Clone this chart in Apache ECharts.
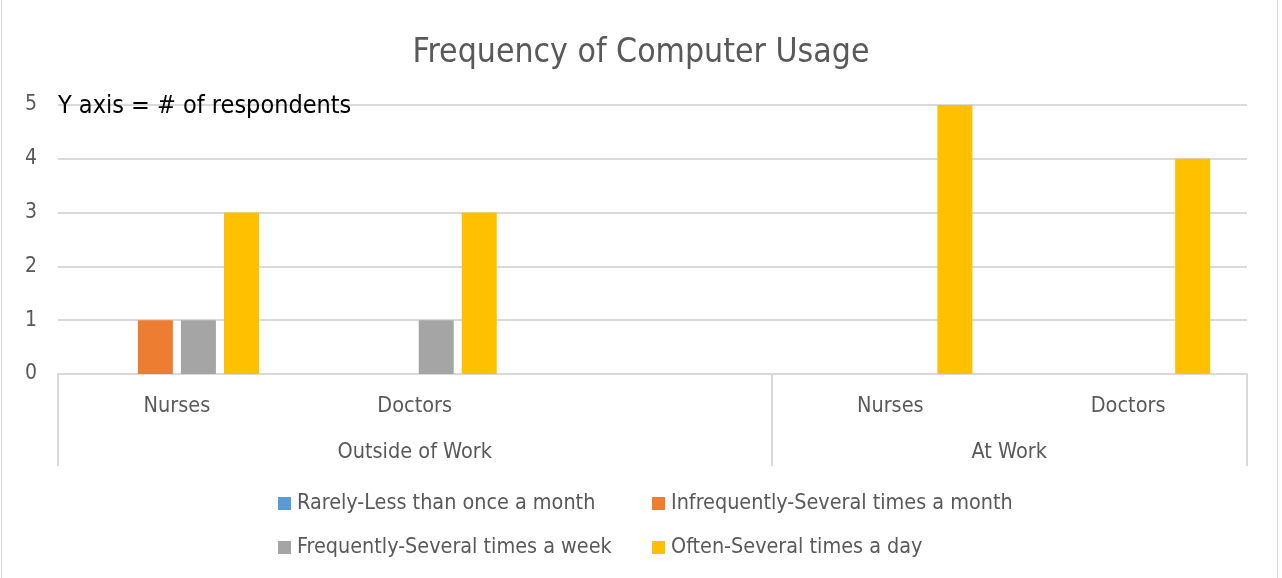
<!DOCTYPE html>
<html><head><meta charset="utf-8">
<script src="https://cdn.jsdelivr.net/npm/echarts@6/dist/echarts.min.js"></script>
<style>
html,body{margin:0;padding:0;background:#fff;}
#c{width:1282px;height:578px;position:relative;}
#frame{position:absolute;left:1px;top:-1px;width:1275px;height:580px;border:1px solid #d9d9d9;pointer-events:none;}
</style></head>
<body>
<div id="c"></div><div id="frame"></div>
<script>
const categories = ['Nurses', 'Doctors', '', 'Nurses', 'Doctors'];
const groups = ['Outside of Work', 'At Work'];
const groupSpans = [3, 2];
const seriesNames = ['Rarely-Less than once a month', 'Infrequently-Several times a month', 'Frequently-Several times a week', 'Often-Several times a day'];
const rarely = [0, 0, null, 0, 0];
const infrequently = [1, 0, null, 0, 0];
const frequently = [1, 1, null, 0, 0];
const often = [3, 3, null, 5, 4];
const yTicks = [0, 1, 2, 3, 4, 5];
const colors = ['#5b9bd5', '#ed7d31', '#a5a5a5', '#ffc000'];

const font = 'DejaVu Sans Condensed, Open Sans, sans-serif';
const txt = '#595959';

// group boundaries and centers in category units
const bounds = [0];
groupSpans.forEach(s => bounds.push(bounds[bounds.length - 1] + s));
const centers = groupSpans.map((s, i) => bounds[i] + s / 2);

const values = [rarely, infrequently, frequently, often];
const chart = echarts.init(document.getElementById('c'), null, {renderer: 'canvas'});
chart.setOption({
  animation: false,
  color: colors,
  title: [
    {text: 'Frequency of Computer Usage', left: 'center', top: 31,
     textStyle: {fontFamily: font, fontSize: 33.5, fontWeight: 'normal', color: txt}},
    {text: 'Y axis = # of respondents', left: 53, top: 89,
     textStyle: {fontFamily: font, fontSize: 25, fontWeight: 'normal', color: '#000'}}
  ],
  legend: [
    {data: [seriesNames[0], seriesNames[2]], orient: 'vertical', left: 273, top: 488, itemGap: 23,
     icon: 'rect', itemWidth: 13, itemHeight: 13,
     textStyle: {fontFamily: font, fontSize: 21.4, color: txt, padding: [0,0,0,1]}},
    {data: [seriesNames[1], seriesNames[3]], orient: 'vertical', left: 647, top: 488, itemGap: 23,
     icon: 'rect', itemWidth: 13, itemHeight: 13,
     textStyle: {fontFamily: font, fontSize: 21.4, color: txt, padding: [0,0,0,1]}}
  ],
  grid: {left: 58, right: 35, top: 105, bottom: 204, containLabel: false},
  xAxis: [
    {type: 'category', data: categories, axisTick: {show: false},
     axisLine: {lineStyle: {color: '#d9d9d9', width: 2}},
     axisLabel: {fontFamily: font, fontSize: 21.5, color: txt, margin: 21}},
    {type: 'value', position: 'bottom', min: 0, max: bounds[bounds.length - 1],
     axisLine: {show: false}, splitLine: {show: false},
     axisTick: {show: true, customValues: bounds, length: 92, lineStyle: {color: '#d9d9d9', width: 2}},
     axisLabel: {customValues: centers, fontFamily: font, fontSize: 21.5, color: txt, margin: 67,
       formatter: v => groups[centers.indexOf(v)]}}
  ],
  yAxis: {type: 'value', min: 0, max: 5, interval: 1,
    axisLine: {show: false}, axisTick: {show: false},
    splitLine: {lineStyle: {color: '#d9d9d9', width: 2}},
    axisLabel: {fontFamily: font, fontSize: 21, color: txt, margin: 21,
      formatter: v => yTicks.includes(v) ? String(v) : ''}},
  series: seriesNames.map((n, i) => ({
    name: n, type: 'bar', xAxisIndex: 0, data: values[i],
    barWidth: 35, barGap: '23%', itemStyle: {color: colors[i]}
  }))
});
</script>
</body></html>
